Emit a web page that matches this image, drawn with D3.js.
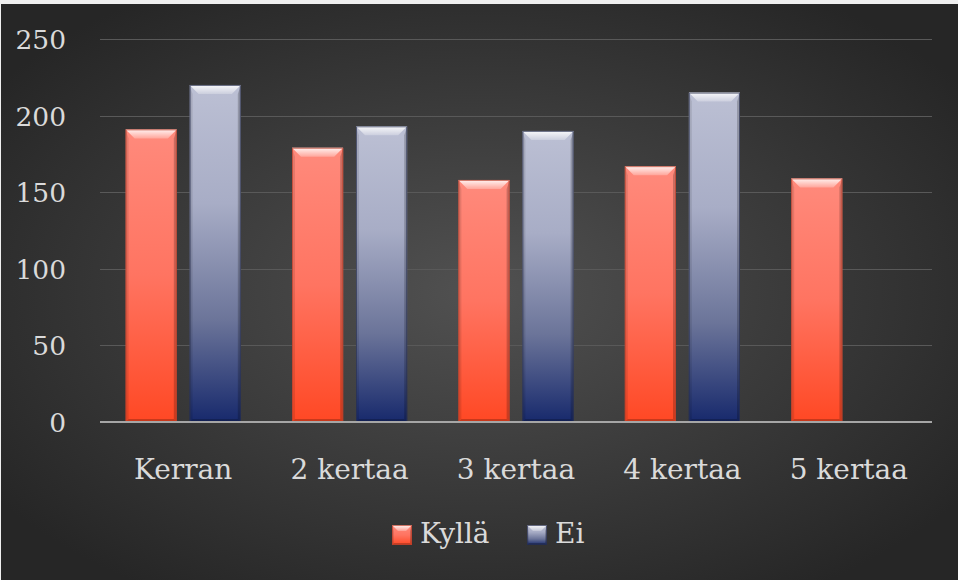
<!DOCTYPE html>
<html>
<head>
<meta charset="utf-8">
<script src="https://cdn.jsdelivr.net/npm/d3@7"></script>
<style>
  html, body { margin: 0; padding: 0; background: #efefef; }
  svg { display: block; }
</style>
</head>
<body>
<svg id="chart" width="958" height="580"></svg>
<script>
// Number of times – answers by group
const categories = ["Kerran", "2 kertaa", "3 kertaa", "4 kertaa", "5 kertaa"];
const seriesNames = ["Kyllä", "Ei"];
const kylla = [191, 179, 158, 167, 159];
const ei = [220, 193, 190, 215, null];
const yTicks = [0, 50, 100, 150, 200, 250];

const W = 958, H = 580;
const FONT = "'DejaVu Serif', serif";
const FONT_SIZE = 28;
const TICK_SIZE = 26.5;
const TEXT = "#dadada";
const svg = d3.select("#chart");
const defs = svg.append("defs");

// Background: dark radial gradient
const bg = defs.append("radialGradient").attr("id", "bg")
  .attr("cx", "50%").attr("cy", "50%").attr("r", "62%");
bg.append("stop").attr("offset", "0%").attr("stop-color", "#515151");
bg.append("stop").attr("offset", "100%").attr("stop-color", "#262626");
svg.append("rect").attr("x", 1).attr("y", 4).attr("width", W - 1).attr("height", H - 4)
  .attr("fill", "url(#bg)");

// Series gradients
const palettes = {
  "Kyllä": [[0, "#ff8a7c"], [0.5, "#ff7461"], [1, "#ff4824"]],
  "Ei": [[0, "#bcc0d4"], [0.35, "#a8adc6"], [0.7, "#6b7499"], [1, "#17296c"]]
};
const edgeColor = { "Kyllä": "#b8402c", "Ei": "#2a3050" };
seriesNames.forEach((s, i) => {
  const g = defs.append("linearGradient").attr("id", "grad" + i)
    .attr("x1", 0).attr("y1", 0).attr("x2", 0).attr("y2", 1);
  palettes[s].forEach(([o, c]) => g.append("stop").attr("offset", o).attr("stop-color", c));
});
const topBevel = defs.append("linearGradient").attr("id", "topBevel")
  .attr("x1", 0).attr("y1", 0).attr("x2", 0).attr("y2", 1);
topBevel.append("stop").attr("offset", 0).attr("stop-color", "#fff").attr("stop-opacity", 0.9);
topBevel.append("stop").attr("offset", 1).attr("stop-color", "#fff").attr("stop-opacity", 0.25);

// Scales
const x0 = d3.scaleBand().domain(categories).range([100, 932]).padding(0);
const y = d3.scaleLinear().domain([0, 250]).range([422, 39]);
const bw = x0.bandwidth() / 3.25;           // gap width 100 %, overlap -25 %
const x1 = d3.scaleOrdinal().domain(seriesNames)
  .range([bw / 2, bw * 1.75]);

// Gridlines
svg.append("g").selectAll("line").data(yTicks.filter(t => t > 0)).join("line")
  .attr("x1", 100).attr("x2", 932)
  .attr("y1", d => Math.round(y(d)) + 0.5).attr("y2", d => Math.round(y(d)) + 0.5)
  .attr("stroke", "#595959").attr("stroke-width", 1);

// Y tick labels
svg.append("g").selectAll("text").data(yTicks).join("text")
  .attr("x", 66).attr("y", d => y(d) + 10)
  .attr("text-anchor", "end").attr("font-size", TICK_SIZE)
  .attr("font-family", FONT).attr("fill", TEXT)
  .text(d => d);

// Beveled bar drawing
function bevelBar(g, x, yTop, w, h, i, name, b0) {
  const b = Math.min(b0, h / 2, w / 2);
  const s = Math.max(1.5, b0 / 3);
  g.append("rect").attr("x", x).attr("y", yTop).attr("width", w).attr("height", h)
    .attr("fill", `url(#grad${i})`);
  // side shading
  g.append("polygon")
    .attr("points", [[x, yTop], [x + s, yTop + b], [x + s, yTop + h - s], [x, yTop + h]].join(" "))
    .attr("fill", "#000").attr("fill-opacity", 0.1);
  g.append("polygon")
    .attr("points", [[x + w, yTop], [x + w - s, yTop + b], [x + w - s, yTop + h - s], [x + w, yTop + h]].join(" "))
    .attr("fill", "#000").attr("fill-opacity", 0.2);
  g.append("polygon")
    .attr("points", [[x, yTop + h], [x + s, yTop + h - s], [x + w - s, yTop + h - s], [x + w, yTop + h]].join(" "))
    .attr("fill", "#000").attr("fill-opacity", 0.22);
  // top bevel highlight
  g.append("polygon")
    .attr("points", [[x, yTop], [x + w, yTop], [x + w - b, yTop + b], [x + b, yTop + b]].join(" "))
    .attr("fill", "url(#topBevel)");
  g.append("rect").attr("x", x + 0.5).attr("y", yTop + 0.5).attr("width", w - 1).attr("height", h - 1)
    .attr("fill", "none").attr("stroke", edgeColor[name]).attr("stroke-opacity", 0.7).attr("stroke-width", 1);
}

const barsG = svg.append("g");
const seriesData = [kylla, ei];
seriesNames.forEach((s, i) => {
  categories.forEach((c, j) => {
    const v = seriesData[i][j];
    if (v == null) return;
    const x = x0(c) + x1(s);
    bevelBar(barsG.append("g"), x, y(v), bw, y(0) - y(v), i, s, 9);
  });
});

// Category axis
svg.append("line").attr("x1", 100).attr("x2", 932).attr("y1", 422).attr("y2", 422)
  .attr("stroke", "#a6a6a6").attr("stroke-width", 2);
svg.append("g").selectAll("text").data(categories).join("text")
  .attr("x", d => x0(d) + x0.bandwidth() / 2).attr("y", 479)
  .attr("text-anchor", "middle").attr("font-size", FONT_SIZE)
  .attr("font-family", FONT).attr("fill", TEXT)
  .text(d => d);

// Legend
const legendItems = [{ name: "Kyllä", x: 392 }, { name: "Ei", x: 527 }];
legendItems.forEach((it, i) => {
  const g = svg.append("g");
  bevelBar(g, it.x, 525, 20, 20, i, it.name, 6);
  g.append("text").attr("x", it.x + 28).attr("y", 543).attr("font-size", FONT_SIZE)
    .attr("font-family", FONT).attr("fill", TEXT).text(it.name);
});
</script>
</body>
</html>
